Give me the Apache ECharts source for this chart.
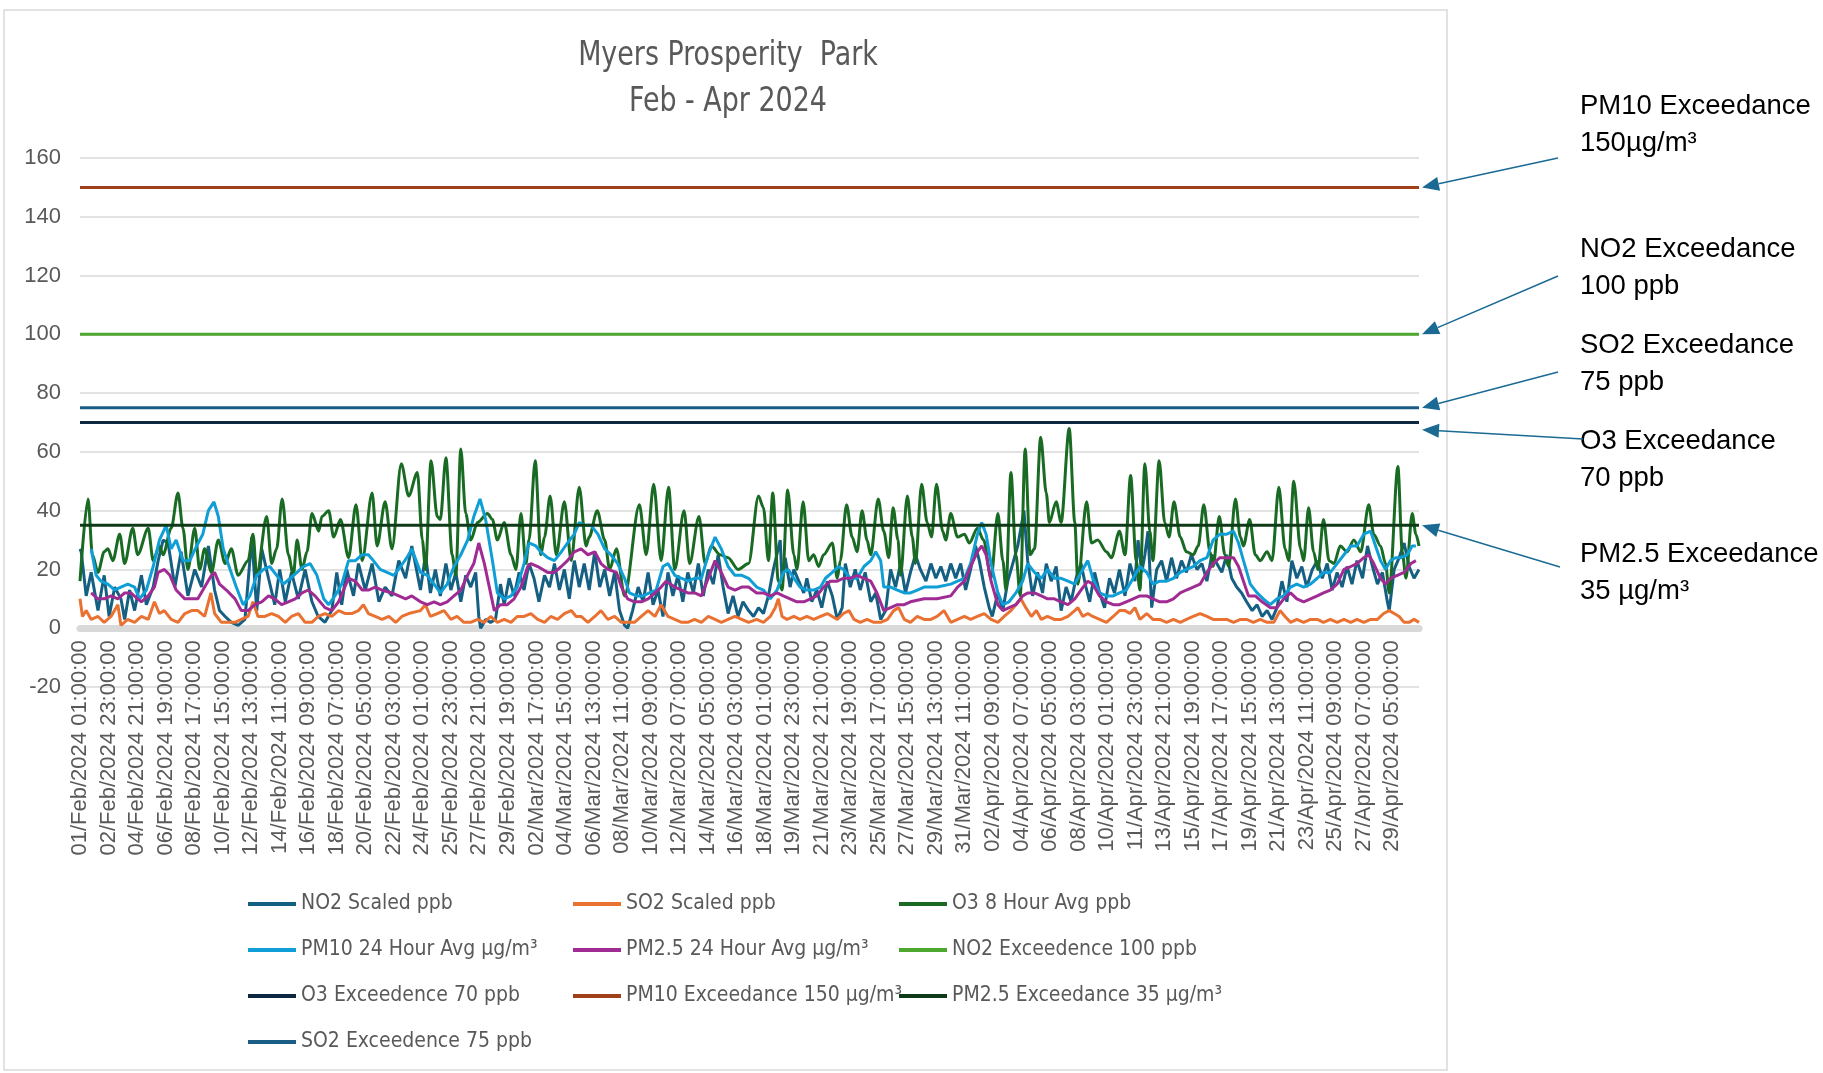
<!DOCTYPE html>
<html><head><meta charset="utf-8">
<script src="https://cdn.jsdelivr.net/npm/echarts@6/dist/echarts.min.js"></script>
<style>html,body{margin:0;padding:0;background:#fff}#c{width:1823px;height:1073px}</style>
</head><body><div id="c"></div>
<script>
// ---------- axis / category data ----------
const titleText = 'Myers Prosperity  Park\nFeb - Apr 2024';
const startTime = Date.UTC(2024, 1, 1, 1);   // 01/Feb/2024 01:00:00
const hourCount = 2160;                       // hourly records to 01/May/2024 00:00
const labelEvery = 46;                        // one tick label every 46 hours
const monthNames = ['Jan','Feb','Mar','Apr','May','Jun','Jul','Aug','Sep','Oct','Nov','Dec'];
const yMin = -20, yMax = 160, yStep = 20;

// ---------- series values: [hour index, value] ----------
const no2Points = [[0,27],[2,26],[10,11],[18,19],[29,6],[39,18],[47,4],[56,14],[66,10],[72,3],[80,13],[88,6],[99,18],[107,8],[118,14],[126,23],[134,30],[142,29],[153,14],[163,26],[174,11],[185,20],[196,14],[207,28],[217,13],[225,6],[234,4],[244,2],[255,1],[266,3],[277,31],[285,6],[293,27],[304,17],[314,8],[322,20],[331,9],[341,19],[352,10],[363,20],[374,9],[384,4],[395,2],[406,6],[414,19],[422,8],[430,20],[441,11],[449,22],[460,13],[471,22],[482,9],[492,14],[503,11],[514,23],[525,17],[535,28],[549,13],[557,25],[565,12],[573,20],[581,11],[590,22],[598,13],[606,19],[614,9],[622,18],[630,14],[638,19],[643,4],[646,0],[654,3],[662,2],[670,3],[678,15],[684,8],[692,17],[700,11],[708,19],[716,13],[724,22],[732,17],[740,9],[749,18],[757,14],[765,22],[773,13],[781,20],[789,10],[797,23],[805,14],[813,22],[821,13],[830,26],[838,14],[846,20],[854,11],[862,19],[870,6],[878,1],[883,0],[891,6],[900,14],[908,9],[916,19],[924,8],[932,13],[940,4],[948,19],[956,11],[964,18],[972,9],[980,19],[989,12],[997,22],[1005,11],[1013,20],[1021,15],[1029,25],[1037,14],[1045,5],[1053,11],[1061,4],[1069,9],[1078,6],[1086,4],[1094,7],[1102,5],[1110,11],[1118,20],[1129,30],[1132,16],[1137,24],[1145,14],[1151,20],[1159,16],[1167,12],[1172,17],[1180,9],[1188,13],[1196,7],[1205,16],[1213,11],[1221,3],[1229,7],[1234,22],[1242,14],[1250,20],[1258,13],[1266,19],[1275,9],[1283,12],[1291,3],[1299,6],[1307,20],[1315,14],[1323,22],[1331,12],[1339,19],[1347,25],[1355,20],[1364,16],[1372,22],[1380,17],[1388,21],[1396,16],[1404,22],[1412,17],[1420,22],[1428,13],[1436,20],[1444,28],[1450,23],[1458,14],[1466,7],[1471,4],[1480,12],[1488,6],[1496,16],[1504,22],[1512,28],[1522,40],[1528,23],[1536,11],[1544,19],[1552,12],[1558,22],[1566,16],[1574,21],[1582,6],[1590,14],[1598,9],[1606,17],[1614,22],[1622,14],[1628,9],[1636,19],[1644,12],[1652,7],[1660,17],[1668,12],[1676,20],[1685,11],[1693,22],[1701,16],[1706,30],[1712,19],[1717,25],[1722,33],[1728,7],[1736,20],[1744,23],[1752,16],[1760,24],[1768,17],[1776,23],[1784,19],[1792,25],[1801,20],[1809,22],[1817,16],[1825,25],[1833,22],[1841,19],[1849,25],[1857,17],[1865,14],[1873,12],[1881,9],[1890,6],[1898,8],[1906,4],[1914,6],[1922,3],[1930,7],[1938,16],[1946,9],[1954,23],[1962,17],[1970,21],[1978,14],[1987,20],[1995,23],[2003,17],[2011,22],[2019,13],[2027,19],[2035,14],[2043,21],[2051,15],[2059,23],[2068,17],[2076,28],[2084,21],[2092,15],[2100,19],[2108,9],[2111,6],[2119,20],[2127,24],[2135,29],[2143,21],[2151,17],[2159,20]];

const so2Points = [[0,10],[4,4],[10,6],[18,3],[29,4],[39,2],[50,4],[61,8],[66,1],[77,3],[88,2],[99,4],[110,3],[120,9],[128,5],[136,6],[147,3],[158,2],[169,5],[180,6],[190,6],[201,4],[211,12],[217,5],[228,2],[239,2],[250,2],[260,3],[271,4],[279,9],[287,4],[298,4],[309,5],[320,4],[331,2],[341,4],[352,5],[363,2],[374,2],[384,4],[395,5],[406,4],[417,6],[428,5],[438,5],[449,6],[457,8],[465,5],[476,4],[487,3],[498,4],[509,2],[519,4],[530,5],[549,6],[557,8],[565,4],[576,5],[587,6],[598,3],[608,4],[619,2],[630,2],[641,3],[652,2],[662,4],[673,2],[684,3],[695,2],[705,4],[716,4],[727,5],[738,3],[749,2],[759,4],[770,3],[781,5],[792,6],[800,4],[808,4],[819,2],[830,4],[840,6],[851,3],[862,4],[873,2],[883,2],[894,2],[905,4],[916,6],[927,4],[937,8],[948,4],[959,3],[970,2],[980,2],[991,3],[1002,2],[1013,4],[1024,3],[1034,2],[1045,3],[1056,4],[1067,3],[1078,2],[1091,3],[1102,2],[1113,4],[1121,7],[1126,10],[1132,4],[1140,3],[1151,4],[1161,3],[1172,4],[1183,3],[1194,4],[1205,5],[1213,4],[1221,3],[1231,5],[1240,6],[1248,3],[1258,2],[1269,3],[1280,2],[1291,2],[1302,3],[1312,6],[1320,7],[1329,3],[1339,2],[1350,4],[1361,3],[1372,3],[1382,4],[1393,6],[1404,2],[1415,3],[1426,4],[1436,3],[1447,4],[1458,5],[1469,3],[1480,2],[1490,4],[1501,6],[1509,8],[1517,10],[1525,7],[1534,4],[1542,6],[1550,3],[1560,4],[1571,3],[1582,3],[1593,4],[1604,6],[1609,7],[1617,4],[1625,5],[1633,4],[1644,3],[1655,2],[1666,4],[1676,6],[1685,6],[1693,5],[1701,7],[1709,3],[1720,5],[1730,3],[1741,3],[1752,2],[1763,3],[1774,2],[1784,3],[1795,4],[1806,5],[1817,4],[1827,3],[1838,3],[1849,3],[1860,2],[1871,3],[1881,3],[1892,2],[1903,3],[1914,2],[1925,2],[1935,6],[1943,4],[1952,2],[1962,3],[1973,2],[1984,3],[1995,3],[2005,2],[2016,3],[2027,2],[2038,3],[2049,2],[2059,3],[2070,2],[2081,3],[2092,3],[2102,5],[2111,6],[2119,5],[2127,4],[2135,2],[2143,2],[2151,3],[2159,2]];

const o3Points = [[0,16],[13,44],[20,25],[29,19],[39,26],[45,27],[53,23],[64,32],[72,22],[85,34],[93,25],[110,34],[118,23],[128,28],[134,25],[147,34],[158,46],[166,34],[174,20],[185,34],[193,20],[201,27],[212,19],[223,30],[234,22],[244,27],[255,18],[271,23],[279,32],[285,18],[301,38],[309,22],[317,27],[326,44],[336,25],[344,18],[350,30],[358,20],[366,26],[374,39],[385,33],[390,38],[401,40],[409,31],[420,37],[433,24],[445,42],[455,23],[471,46],[479,28],[492,43],[503,27],[518,56],[530,45],[544,53],[552,30],[557,20],[566,57],[576,38],[581,37],[590,58],[600,25],[606,18],[614,61],[622,39],[630,30],[641,36],[657,39],[665,37],[673,30],[684,36],[695,25],[703,20],[711,39],[719,22],[724,30],[734,57],[743,25],[749,31],[758,45],[768,25],[781,43],[792,23],[805,48],[816,28],[821,31],[834,40],[846,30],[854,20],[865,27],[878,11],[902,42],[913,25],[925,49],[937,23],[949,48],[959,20],[974,40],[983,22],[998,38],[1008,22],[1018,28],[1032,25],[1045,24],[1061,20],[1078,22],[1094,45],[1102,41],[1110,23],[1117,46],[1126,16],[1132,13],[1141,47],[1151,25],[1156,20],[1166,43],[1175,23],[1183,25],[1191,21],[1199,25],[1213,29],[1221,17],[1226,23],[1236,42],[1245,31],[1253,26],[1261,40],[1269,30],[1275,25],[1287,44],[1296,33],[1304,24],[1311,41],[1319,30],[1323,18],[1334,45],[1342,31],[1347,22],[1357,49],[1366,36],[1373,31],[1381,49],[1391,33],[1396,30],[1404,39],[1415,31],[1426,32],[1434,29],[1447,34],[1457,30],[1469,17],[1480,39],[1488,23],[1493,13],[1501,53],[1509,25],[1516,11],[1524,61],[1532,25],[1539,27],[1549,65],[1558,46],[1563,36],[1574,43],[1582,36],[1595,68],[1604,36],[1609,15],[1623,43],[1631,29],[1641,30],[1655,26],[1663,24],[1676,33],[1685,25],[1694,52],[1703,23],[1709,13],[1717,56],[1725,33],[1730,23],[1740,57],[1749,36],[1756,31],[1764,43],[1774,31],[1784,26],[1795,25],[1803,28],[1812,42],[1822,26],[1827,21],[1837,38],[1846,25],[1852,21],[1863,44],[1871,31],[1876,28],[1886,37],[1895,25],[1903,23],[1914,26],[1922,23],[1933,48],[1943,27],[1949,23],[1957,50],[1968,27],[1973,23],[1981,41],[1989,26],[1996,20],[2005,37],[2014,23],[2022,22],[2032,28],[2043,26],[2054,30],[2065,26],[2078,42],[2086,32],[2097,28],[2105,22],[2111,12],[2125,55],[2132,26],[2138,17],[2148,39],[2154,32],[2159,28]];

const pm10Points = [[18,27],[26,18],[34,16],[45,15],[56,13],[66,14],[77,15],[88,14],[96,10],[107,13],[118,21],[128,30],[139,35],[147,27],[155,30],[166,23],[177,23],[188,28],[198,32],[207,40],[216,43],[223,38],[231,27],[242,20],[252,14],[263,8],[274,11],[285,18],[296,20],[306,21],[317,18],[328,15],[339,17],[350,19],[360,21],[371,22],[382,18],[393,10],[401,8],[411,11],[422,15],[433,23],[444,23],[455,25],[465,25],[473,23],[484,20],[495,19],[506,18],[517,21],[527,24],[535,27],[549,19],[560,18],[571,15],[581,12],[592,15],[603,21],[614,25],[625,30],[635,38],[645,44],[654,37],[665,23],[673,12],[684,10],[695,11],[705,14],[716,22],[724,29],[735,28],[743,26],[754,24],[765,23],[776,26],[786,29],[797,32],[805,36],[813,35],[824,35],[835,32],[846,27],[856,25],[867,22],[878,17],[886,12],[897,11],[908,11],[918,12],[929,13],[940,21],[948,22],[959,18],[970,17],[980,16],[991,17],[1002,17],[1013,25],[1024,31],[1034,27],[1045,21],[1056,18],[1067,18],[1078,17],[1091,14],[1102,13],[1113,10],[1124,13],[1134,19],[1142,20],[1151,17],[1161,14],[1172,13],[1183,13],[1194,14],[1202,17],[1213,19],[1223,21],[1231,20],[1242,17],[1253,17],[1264,21],[1275,23],[1283,26],[1291,23],[1296,14],[1307,14],[1318,13],[1329,12],[1339,12],[1350,13],[1361,14],[1382,14],[1404,15],[1415,16],[1426,17],[1436,22],[1447,32],[1454,36],[1461,32],[1469,22],[1480,12],[1488,8],[1498,9],[1509,12],[1520,16],[1528,22],[1539,19],[1550,17],[1560,20],[1571,17],[1582,17],[1593,16],[1604,15],[1614,19],[1625,23],[1633,17],[1644,12],[1655,11],[1666,11],[1676,12],[1687,13],[1698,17],[1709,21],[1720,19],[1730,15],[1741,16],[1752,16],[1763,17],[1774,19],[1784,20],[1795,21],[1806,23],[1817,24],[1827,30],[1838,32],[1849,32],[1860,33],[1868,29],[1876,23],[1887,15],[1898,12],[1908,10],[1919,8],[1930,10],[1941,11],[1952,14],[1962,15],[1973,14],[1984,15],[1995,17],[2005,19],[2016,19],[2027,22],[2038,25],[2049,28],[2059,28],[2070,32],[2081,33],[2089,28],[2097,23],[2105,20],[2113,23],[2121,24],[2130,24],[2140,25],[2148,28],[2154,28]];

const pm25Points = [[18,12],[29,10],[39,10],[50,11],[61,10],[72,12],[82,12],[93,10],[99,9],[110,11],[120,14],[126,19],[136,20],[145,18],[155,13],[169,10],[180,10],[190,10],[201,14],[212,18],[217,19],[225,15],[236,13],[250,10],[260,6],[271,6],[282,8],[293,9],[304,11],[314,10],[325,8],[336,9],[347,10],[358,12],[368,13],[379,11],[395,7],[406,6],[417,9],[425,13],[433,17],[444,16],[455,13],[465,13],[476,14],[487,13],[503,12],[514,11],[525,10],[535,11],[549,9],[560,8],[571,9],[581,8],[592,9],[603,11],[614,13],[625,18],[635,22],[643,29],[652,22],[660,14],[668,6],[678,8],[689,8],[700,10],[711,14],[722,21],[727,22],[738,21],[754,19],[765,19],[776,21],[786,23],[797,26],[808,27],[819,25],[830,26],[840,22],[851,20],[865,19],[873,14],[883,10],[894,9],[905,9],[916,10],[927,12],[937,14],[945,16],[959,14],[970,13],[980,12],[991,12],[1002,11],[1013,17],[1024,23],[1034,19],[1045,14],[1056,13],[1067,14],[1078,14],[1091,12],[1102,12],[1113,11],[1124,12],[1134,11],[1145,10],[1156,9],[1167,9],[1178,10],[1188,11],[1199,14],[1210,16],[1221,16],[1231,17],[1242,17],[1253,18],[1264,17],[1275,16],[1285,12],[1296,6],[1307,7],[1318,8],[1329,8],[1339,9],[1361,10],[1382,10],[1404,11],[1415,14],[1426,16],[1436,21],[1447,26],[1454,28],[1461,25],[1469,16],[1480,8],[1488,6],[1498,7],[1509,8],[1520,11],[1528,12],[1539,12],[1550,11],[1560,10],[1571,10],[1582,9],[1593,8],[1604,10],[1614,13],[1625,16],[1633,15],[1644,11],[1655,9],[1666,8],[1676,8],[1687,9],[1698,10],[1709,11],[1720,11],[1730,10],[1741,9],[1752,9],[1763,10],[1774,12],[1784,13],[1795,14],[1806,15],[1817,19],[1827,22],[1838,24],[1849,24],[1860,24],[1868,21],[1876,16],[1884,11],[1895,11],[1906,9],[1919,7],[1930,7],[1941,10],[1952,12],[1962,10],[1973,9],[1984,10],[1995,11],[2005,12],[2016,13],[2027,15],[2038,20],[2049,21],[2059,22],[2070,24],[2078,25],[2086,22],[2097,17],[2105,15],[2113,17],[2124,18],[2135,19],[2146,22],[2154,23]];

// exceedance thresholds
const no2Limit = 100, o3Limit = 70, pm10Limit = 150, pm25Limit = 35, so2Limit = 75;

const seriesNames = ['NO2 Scaled ppb','SO2 Scaled ppb','O3 8 Hour Avg ppb','PM10 24 Hour Avg µg/m³','PM2.5 24 Hour Avg µg/m³','NO2 Exceedence 100 ppb','O3 Exceedence 70 ppb','PM10 Exceedance 150 µg/m³','PM2.5 Exceedance 35 µg/m³','SO2 Exceedence 75 ppb'];
const seriesColors = ['#156082','#E97132','#196B24','#0F9ED5','#A02B93','#4EA72E','#0E2841','#A0401A','#0F3A17','#1B5E85'];

// ---------- build ----------
function pad(n){ return (n < 10 ? '0' : '') + n; }
const categories = [];
for (let i = 0; i < hourCount; i++) {
  const d = new Date(startTime + i * 3600000);
  categories.push(pad(d.getUTCDate()) + '/' + monthNames[d.getUTCMonth()] + '/' + d.getUTCFullYear() + ' ' + pad(d.getUTCHours()) + ':00:00');
}
function limitLine(v){ return [[0, v], [hourCount - 1, v]]; }

const LABEL_FONT = '"Liberation Sans", Arial, sans-serif';
const NARROW_FONT = '"Liberation Sans Narrow", "DejaVu Sans Condensed", "Liberation Sans", sans-serif';

const seriesData = [no2Points, so2Points, o3Points, pm10Points, pm25Points,
  limitLine(no2Limit), limitLine(o3Limit), limitLine(pm10Limit), limitLine(pm25Limit), limitLine(so2Limit)];
const smoothFlags = [false, false, 0.3, false, false, false, false, false, false, false];

const series = seriesNames.map((name, i) => ({
  type: 'line', name, data: seriesData[i], symbol: 'none', showSymbol: false,
  smooth: smoothFlags[i], smoothMonotone: 'x',
  lineStyle: { color: seriesColors[i], width: 3 }, itemStyle: { color: seriesColors[i] },
  emphasis: { disabled: true }, silent: true, animation: false
}));

function legendCol(indices, left) {
  return {
    orient: 'vertical', left: left, top: 887, padding: 5, itemWidth: 48, itemHeight: 4, itemGap: 22,
    icon: 'rect', selectedMode: false,
    data: indices.map(i => ({ name: seriesNames[i], icon: 'rect' })),
    textStyle: { fontFamily: NARROW_FONT, fontSize: 21, color: '#595959', lineHeight: 24 }
  };
}

const gridTop = 158, gridBottom = 386, chartH = 1073;
const gridH = chartH - gridTop - gridBottom;
// place the category axis (line + labels) at value 0, as in the source chart
const zeroOffset = -gridH * (0 - yMin) / (yMax - yMin);

const chart = echarts.init(document.getElementById('c'), null, { renderer: 'canvas' });
chart.setOption({
  backgroundColor: '#ffffff',
  animation: false,
  grid: { left: 80, right: 404, top: gridTop, bottom: gridBottom, containLabel: false },
  xAxis: {
    type: 'category', data: categories, boundaryGap: false, offset: zeroOffset,
    axisLine: { onZero: false, lineStyle: { color: '#d9d9d9', width: 7 } },
    axisTick: { show: false },
    splitLine: { show: false },
    axisLabel: { interval: labelEvery - 1, rotate: 90, fontSize: 22, fontFamily: LABEL_FONT, color: '#595959', margin: 12 }
  },
  yAxis: {
    type: 'value', min: yMin, max: yMax, interval: yStep,
    axisLine: { show: false }, axisTick: { show: false },
    splitLine: { lineStyle: { color: '#d9d9d9', width: 1.5 } },
    axisLabel: { fontSize: 22, fontFamily: LABEL_FONT, color: '#595959', margin: 19 }
  },
  legend: [legendCol([0, 3, 6, 9], 243), legendCol([1, 4, 7], 568), legendCol([2, 5, 8], 894)],
  series: series
});

// ---------- annotations (positions derived from the axes) ----------
const notes = [
  { text: 'PM10 Exceedance\n150µg/m³', top: 88, from: [1558, 158], value: pm10Limit },
  { text: 'NO2 Exceedance\n100 ppb', top: 231, from: [1558, 276], value: no2Limit },
  { text: 'SO2 Exceedance\n75 ppb', top: 327, from: [1558, 372], value: so2Limit },
  { text: 'O3 Exceedance\n70 ppb', top: 423, from: [1583, 439], value: o3Limit - 2.5 },
  { text: 'PM2.5 Exceedance\n35 µg/m³', top: 536, from: [1560, 567], value: pm25Limit }
];
const tipX = chart.convertToPixel({ xAxisIndex: 0 }, hourCount - 1) + 3;
const graphics = [
  { type: 'rect', shape: { x: 4, y: 10, width: 1443, height: 1060 }, style: { fill: 'none', stroke: '#d9d9d9', lineWidth: 1.5 }, silent: true, z: -10 },
  { type: 'text', x: 728, y: 33, scaleX: 0.88, scaleY: 1, style: { text: titleText, fill: '#595959', fontSize: 34, fontFamily: NARROW_FONT, lineHeight: 46, align: 'center', textAlign: 'center', verticalAlign: 'top', textVerticalAlign: 'top' }, silent: true }
];
notes.forEach(n => {
  graphics.push({ type: 'text', x: 1580, y: n.top, style: { text: n.text, fill: '#000000', fontSize: 27.5, fontFamily: LABEL_FONT, lineHeight: 37, align: 'left', textAlign: 'left', verticalAlign: 'top', textVerticalAlign: 'top' }, silent: true });
  const tx = tipX, ty = chart.convertToPixel({ yAxisIndex: 0 }, n.value);
  const sx = n.from[0], sy = n.from[1];
  const dx = tx - sx, dy = ty - sy, len = Math.sqrt(dx * dx + dy * dy);
  const ux = dx / len, uy = dy / len, px = -uy, py = ux;
  const bx = tx - ux * 17, by = ty - uy * 17;
  graphics.push({ type: 'line', shape: { x1: sx, y1: sy, x2: bx, y2: by }, style: { stroke: '#1A6A94', lineWidth: 1.5 }, silent: true });
  graphics.push({ type: 'polygon', shape: { points: [[tx, ty], [bx + px * 7, by + py * 7], [bx - px * 7, by - py * 7]] }, style: { fill: '#1A6A94' }, silent: true });
});
chart.setOption({ graphic: { elements: graphics } });
</script>
</body></html>
